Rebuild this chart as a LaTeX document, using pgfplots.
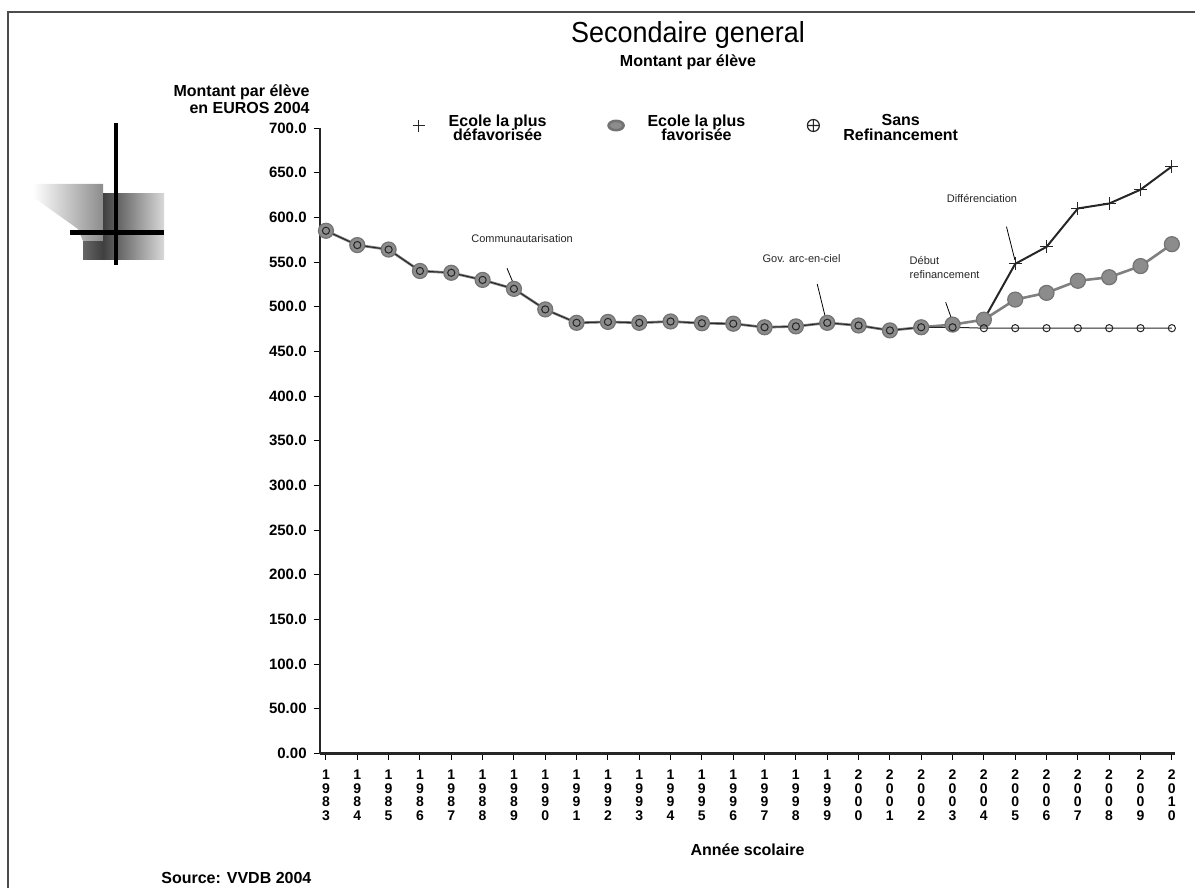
\documentclass[border=0pt]{standalone}
\usepackage{fontspec}
\setmainfont{Liberation Sans}
\usepackage{pgfplots}
\pgfplotsset{compat=1.18}
\newcommand\lab{\bfseries\fontsize{8}{7}\selectfont}
\begin{document}
\begin{tikzpicture}
\begin{scope}[x=0.5pt,y=-0.5pt]
\path[use as bounding box] (0,0) rectangle (1195,888);
\draw[line width=1.4pt, black!70] (8,888) -- (8,12) -- (1195,12);
% logo
\shade[left color=white, right color=black!45] (33,184) -- (103,184) -- (103,241) -- (83,241) -- (78,229) -- (33,197) -- cycle;
\shade[left color=black!75, right color=black!15] (103,194) rectangle (164,259);
\shade[left color=black!60, right color=black!75] (83,241) rectangle (103,259);
\fill[black] (113.5,123) rectangle (117.5,265);
\fill[black] (70,230) rectangle (164,234.5);
% titles
\node[anchor=base, font=\fontsize{14.5}{16}\selectfont, xscale=0.93, inner sep=0pt] at (688,43) {Secondaire general};
\node[font=\lab, inner sep=0pt] at (688,62) {Montant par élève};
\node[anchor=east, align=right, font=\lab, inner sep=0pt] at (310,99) {Montant par élève\\en EUROS 2004};
\node[anchor=west, font=\lab, inner sep=0pt] at (161,878) {Source: VVDB 2004};
\end{scope}
\begin{axis}[
  at={(160pt,-376.75pt)}, anchor=south west,
  scale only axis, width=427.5pt, height=312.75pt,
  xmin=1982.81, xmax=2010.1, ymin=0, ymax=700,
  axis x line*=bottom, axis y line*=left,
  axis line style={line width=1.2pt, black!85},
  tick align=outside, major tick length=3pt,
  tick style={line width=0.5pt, black},
  xtick={1983,...,2010},
  xticklabels={{1\\9\\8\\3},{1\\9\\8\\4},{1\\9\\8\\5},{1\\9\\8\\6},{1\\9\\8\\7},{1\\9\\8\\8},{1\\9\\8\\9},{1\\9\\9\\0},{1\\9\\9\\1},{1\\9\\9\\2},{1\\9\\9\\3},{1\\9\\9\\4},{1\\9\\9\\5},{1\\9\\9\\6},{1\\9\\9\\7},{1\\9\\9\\8},{1\\9\\9\\9},{2\\0\\0\\0},{2\\0\\0\\1},{2\\0\\0\\2},{2\\0\\0\\3},{2\\0\\0\\4},{2\\0\\0\\5},{2\\0\\0\\6},{2\\0\\0\\7},{2\\0\\0\\8},{2\\0\\0\\9},{2\\0\\1\\0}},
  xticklabel style={font=\bfseries\fontsize{7}{6.75}\selectfont, align=center, inner sep=0pt, anchor=north, yshift=-5pt},
  ytick={0,50,...,700},
  yticklabels={0.00,50.00,100.0,150.0,200.0,250.0,300.0,350.0,400.0,450.0,500.0,550.0,600.0,650.0,700.0},
  yticklabel style={font=\bfseries\fontsize{7.5}{8}\selectfont, anchor=east, inner sep=0pt, xshift=-3.5pt},
  xlabel={Année scolaire},
  xlabel style={font=\lab, at={(axis description cs:0.5,0)}, anchor=center, yshift=-48.25pt},
  legend columns=3,
  legend style={draw=none, fill=none, inner sep=0pt, at={(0.108,1.004)}, anchor=west,
    font=\bfseries\fontsize{8}{6.4}\selectfont,
    /tikz/every odd column/.append style={column sep=10pt},
    /tikz/every even column/.append style={column sep=29pt}},
  legend image code/.code={\draw[#1,only marks] plot coordinates {(0pt,0pt)};},
  clip=false,
]
% Ecole la plus defavorisee
\addplot[color=black!85, line width=1pt, mark=+, mark size=3.2pt, mark indices={2,...,7}, mark options={line width=0.6pt},
  legend image post style={mark indices={1}, mark size=3pt}]
  coordinates {(2004,485.5) (2005,548) (2006,567) (2007,610) (2008,615.5) (2009,631) (2010,657)};
\addlegendentry{\begin{tabular}{@{}c@{}}Ecole la plus\\[-0.6pt]défavorisée\end{tabular}}
% Ecole la plus favorisee
\addplot[color=black!50, line width=1.3pt, mark=*, mark size=3.75pt, mark options={fill=black!45, draw=black!55, line width=0.6pt},
  legend image post style={mark options={fill=black!45, draw=black!55, yscale=0.62}}]
  coordinates {(1983,585) (1984,569) (1985,564) (1986,540) (1987,538) (1988,530) (1989,520) (1990,497) (1991,482) (1992,483) (1993,482) (1994,483.5) (1995,481.5) (1996,481) (1997,477) (1998,478) (1999,482) (2000,479) (2001,473.5) (2002,477) (2003,480) (2004,485.5) (2005,508) (2006,515.5) (2007,529) (2008,533) (2009,545.5) (2010,570)};
\addlegendentry{\begin{tabular}{@{}c@{}}Ecole la plus\\[-0.6pt]favorisée\end{tabular}}
% Sans refinancement
\addplot[color=black!85, line width=0.5pt, mark=o, mark size=1.8pt, mark options={line width=0.5pt},
  legend image post style={mark=oplus, mark size=3pt, mark options={line width=0.6pt}}]
  coordinates {(1983,585) (1984,569) (1985,564) (1986,540) (1987,538) (1988,530) (1989,520) (1990,497) (1991,482) (1992,483) (1993,482) (1994,483.5) (1995,481.5) (1996,481) (1997,477) (1998,478) (1999,482) (2000,479) (2001,473.5) (2002,477) (2003,477) (2004,476) (2005,476) (2006,476) (2007,476) (2008,476) (2009,476) (2010,476)};
\addlegendentry{\begin{tabular}{@{}c@{}}Sans\\[-0.6pt]Refinancement\end{tabular}}
% annotations
\node[font=\fontsize{5.5}{7}\selectfont, text=black!85] at (axis cs:1989.26,576.8) {Communautarisation};
\draw[line width=0.4pt] (axis cs:1988.78,543) -- (axis cs:1988.98,526.2);
\node[font=\fontsize{5.5}{7}\selectfont, text=black!85] at (axis cs:1998.18,553.4) {Gov. arc-en-ciel};
\draw[line width=0.4pt] (axis cs:1998.68,525.5) -- (axis cs:1998.96,485.3);
\node[font=\fontsize{5.5}{7}\selectfont, text=black!85, anchor=west, align=left, inner sep=0pt] at (axis cs:2001.62,544.3) {Début\\refinancement};
\draw[line width=0.4pt] (axis cs:2002.78,505) -- (axis cs:2002.99,484.3);
\node[font=\fontsize{5.5}{7}\selectfont, text=black!85] at (axis cs:2003.94,621.4) {Différenciation};
\draw[line width=0.4pt] (axis cs:2004.72,589.6) -- (axis cs:2004.99,552.3);
\end{axis}
\end{tikzpicture}
\end{document}
